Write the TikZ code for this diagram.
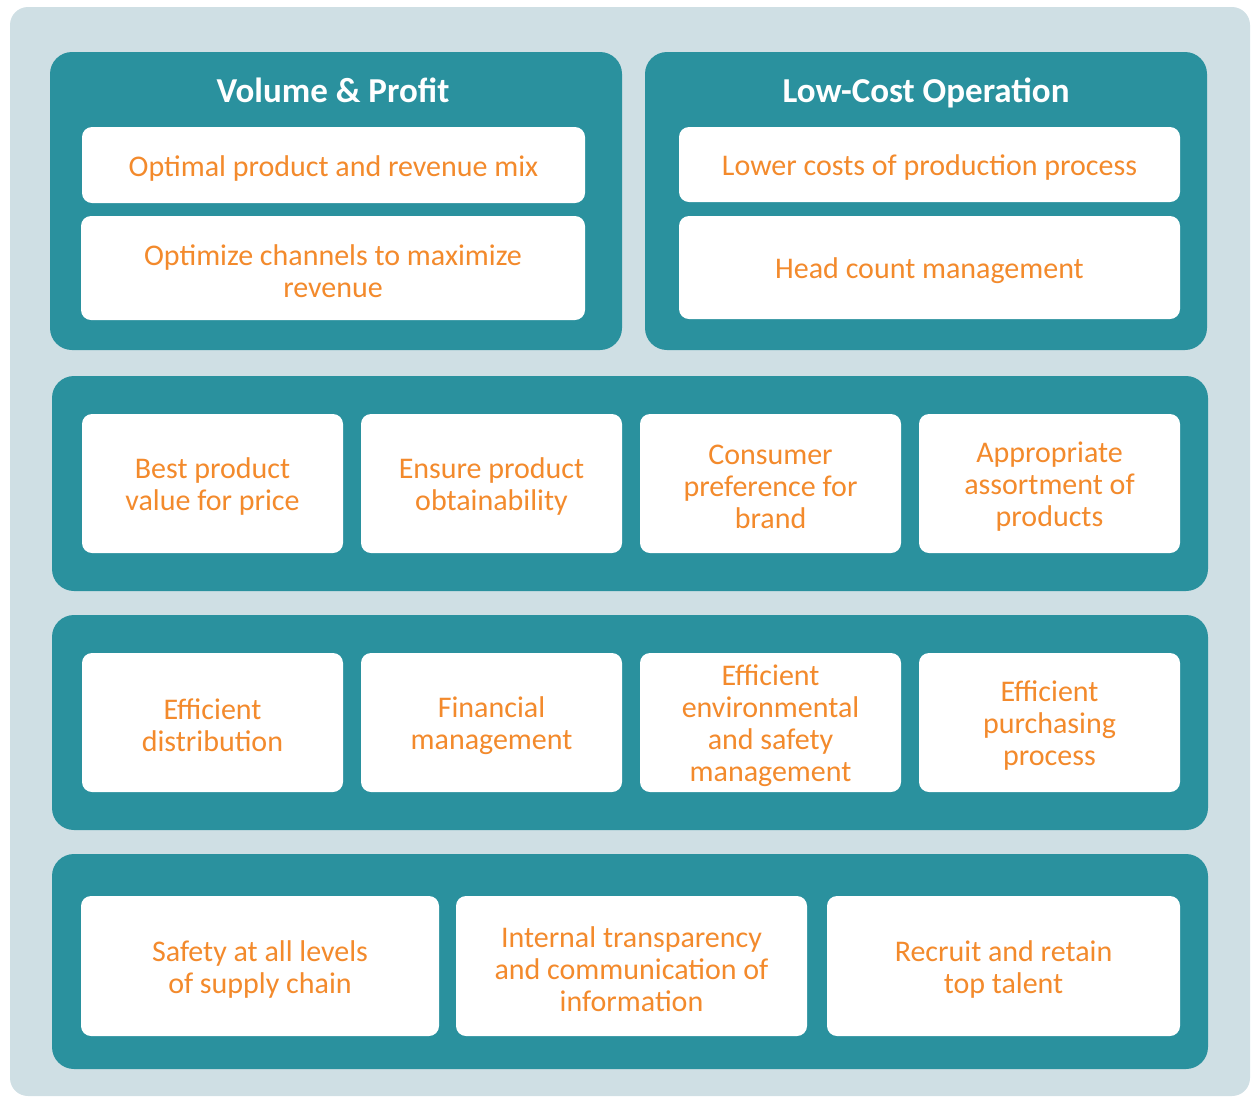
\documentclass[tikz,border=0pt]{standalone}
\usepackage{fontspec}
\setmainfont{Carlito}
\definecolor{bgblue}{HTML}{CFDFE4}
\definecolor{teal}{HTML}{2A919E}
\definecolor{orng}{HTML}{F38A2C}
\begin{document}
\begin{tikzpicture}[x=1pt,y=-1pt,
  panel/.style={fill=teal, rounded corners=22pt},
  celltext/.style={text=orng, align=center, inner sep=0pt, yshift=-3pt,
    font=\fontsize{30}{32}\selectfont},
  cell/.style={fill=white, rounded corners=10pt, inner sep=0pt,
    label={[celltext]center:#1}},
  title/.style={text=white, anchor=base, inner sep=0pt,
    font=\bfseries\fontsize{35}{38}\selectfont}]
\useasboundingbox (0,0) rectangle (1252,1096);
% background and bands
\fill[bgblue, rounded corners=18pt] (10,7) rectangle (1250,1096);
\fill[panel] (50,52) rectangle (622,350);
\fill[panel] (645,52) rectangle (1207,350);
\fill[panel] (52,376) rectangle (1208,591);
\fill[panel] (52,615) rectangle (1208,830);
\fill[panel] (52,854) rectangle (1208,1069);
% top titles
\node[title] (vp) at (333,102) {Volume \& Profit};
\node[title] (lc) at (926,102) {Low-Cost Operation};
% top cells
\node[cell={Optimal product and revenue mix}, minimum width=503pt, minimum height=76pt] (mix) at (333.5,165) {};
\node[cell={Optimize channels to maximize\\revenue}, minimum width=504pt, minimum height=104pt] (chan) at (333,268) {};
\node[cell={Lower costs of production process}, minimum width=501pt, minimum height=75pt] (cost) at (929.5,164.5) {};
\node[cell={Head count management}, minimum width=501pt, minimum height=103pt] (head) at (929.5,267.5) {};
% second band
\node[cell={Best product\\value for price}, minimum width=261pt, minimum height=139pt] (value) at (212.5,483.5) {};
\node[cell={Ensure product\\obtainability}, minimum width=261pt, minimum height=139pt] (obtain) at (491.5,483.5) {};
\node[cell={Consumer\\preference for\\brand}, minimum width=261pt, minimum height=139pt] (brand) at (770.5,483.5) {};
\node[cell={Appropriate\\assortment of\\products}, minimum width=261pt, minimum height=139pt] (assort) at (1049.5,483.5) {};
% third band
\node[cell={Efficient\\distribution}, minimum width=261pt, minimum height=139pt] (distr) at (212.5,722.5) {};
\node[cell={Financial\\management}, minimum width=261pt, minimum height=139pt] (finance) at (491.5,722.5) {};
\node[cell={Efficient\\environmental\\and safety\\management}, minimum width=261pt, minimum height=139pt] (envir) at (770.5,722.5) {};
\node[cell={Efficient\\purchasing\\process}, minimum width=261pt, minimum height=139pt] (purch) at (1049.5,722.5) {};
% bottom band
\node[cell={Safety at all levels\\of supply chain}, minimum width=358pt, minimum height=140pt] (safety) at (260,966) {};
\node[cell={Internal transparency\\and communication of\\information}, minimum width=351pt, minimum height=140pt] (transp) at (631.5,966) {};
\node[cell={Recruit and retain\\top talent}, minimum width=353pt, minimum height=140pt] (talent) at (1003.5,966) {};
\end{tikzpicture}
\end{document}
